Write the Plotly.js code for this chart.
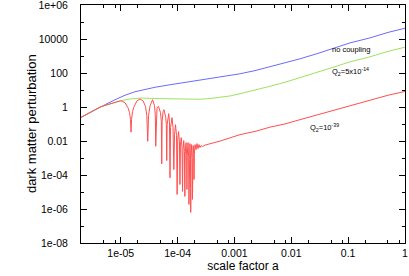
<!DOCTYPE html>
<html>
<head>
<meta charset="utf-8">
<script src="https://cdn.plot.ly/plotly-3.0.1.min.js"></script>
<style>html,body{margin:0;padding:0;background:#fff;}#chart{width:409px;height:276px;}</style>
</head>
<body>
<div id="chart"></div>
<script>
// scale factor a and perturbation values
const aBlue = [2.00e-6, 3.53e-6, 5.30e-6, 7.94e-6, 1.19e-5, 1.78e-5, 2.68e-5, 4.01e-5, 7.36e-5, 1.10e-4, 2.48e-4, 5.58e-4, 1.25e-3, 2.30e-3, 4.23e-3, 7.75e-3, 1.42e-2, 2.95e-2, 5.42e-2, 0.1078, 0.242, 0.5026, 1];
const blueVals = [0.2455, 0.694, 1.364, 2.68, 4.92, 7.89, 11.07, 14.5, 20.3, 24.9, 36.3, 56, 89.8, 138, 231, 381, 681, 1430, 2810, 5900, 11600, 24400, 43000];

const aGreen = [2.00e-6, 3.53e-6, 4.33e-6, 5.30e-6, 6.48e-6, 7.94e-6, 9.72e-6, 1.46e-5, 2.34e-5, 4.01e-5, 7.36e-5, 1.35e-4, 2.48e-4, 3.72e-4, 5.58e-4, 8.36e-4, 1.25e-3, 2.30e-3, 4.23e-3, 7.75e-3, 1.42e-2, 2.95e-2, 5.42e-2, 0.1078, 0.242, 0.5026, 1];
const greenVals = [0.2455, 0.694, 1.00, 1.241, 1.561, 1.965, 2.279, 2.987, 3.373, 3.151, 2.946, 2.867, 2.85, 3.15, 3.6, 4.45, 6.03, 9.67, 16.6, 28.5, 52.3, 110, 216, 454, 891, 1875, 3300];

const aRed = [
  2.00e-6, 3.53e-6, 4.33e-6, 5.30e-6, 6.48e-6, 7.94e-6, 9.72e-6, 1.05e-5,
  1.19e-5, 1.34e-5, 1.428e-5, 1.487e-5, 1.517e-5, 1.549e-5, 1.613e-5, 1.71e-5, 1.94e-5, 2.19e-5, 2.47e-5,
  2.73e-5, 2.877e-5, 2.985e-5, 3.083e-5, 3.28e-5, 3.63e-5, 3.93e-5, 4.06e-5, 4.126e-5, 4.211e-5, 4.349e-5,
  4.62e-5, 5.01e-5, 5.176e-5, 5.262e-5, 5.347e-5, 5.546e-5, 5.78e-5, 6.19e-5, 6.339e-5, 6.442e-5, 6.546e-5,
  6.79e-5, 6.985e-5, 7.19e-5, 7.362e-5, 7.512e-5, 7.759e-5, 7.98e-5, 8.31e-5, 8.59e-5, 8.835e-5, 9.2e-5,
  9.58e-5, 9.815e-5, 1.006e-4, 1.039e-4, 1.078e-4, 1.100e-4, 1.122e-4, 1.159e-4, 1.197e-4, 1.222e-4, 1.247e-4,
  1.282e-4, 1.319e-4, 1.341e-4, 1.363e-4, 1.408e-4, 1.442e-4, 1.460e-4, 1.477e-4, 1.526e-4, 1.564e-4, 1.583e-4,
  1.602e-4, 1.648e-4, 1.689e-4, 1.702e-4, 1.723e-4, 1.766e-4, 1.809e-4, 1.824e-4, 1.846e-4, 1.884e-4, 1.930e-4,
  1.946e-4, 1.970e-4, 2.026e-4, 2.110e-4, 2.198e-4, 2.288e-4, 2.382e-4, 2.481e-4, 2.584e-4, 2.746e-4, 3.039e-4,
  5.578e-4, 1.253e-3, 2.30e-3, 4.225e-3, 7.75e-3, 1.423e-2, 2.95e-2, 7.19e-2, 0.2424, 0.5026, 1
];
const redVals = [
  0.2455, 0.694, 1.00, 1.241, 1.561, 1.965, 2.279, 2.248,
  1.787, 0.910, 0.463, 0.18, 0.0333, 0.18, 0.530, 1.041, 2.342, 2.946, 2.342,
  1.041, 0.3088, 0.0096, 0.3088, 1.192, 2.68, 1.192, 0.3088, 0.00489, 0.3088, 0.910,
  1.084, 0.463, 0.1373, 4.54e-4, 0.1373, 0.530, 0.694, 0.2357, 0.0916, 7.09e-4, 0.0916,
  0.3088, 0.4046, 0.1373, 6.85e-5, 0.0611, 0.206, 0.2357, 0.0611, 2.10e-4, 0.0237, 0.0916,
  0.0207, 7.18e-6, 0.01208, 0.0356, 0.00922, 2.77e-5, 0.00537, 0.0158, 0.0041, 1.08e-5, 0.00313,
  0.01056, 0.00239, 5.48e-6, 0.00182, 0.00806, 0.00139, 1.41e-5, 0.00139, 0.00806, 0.00106, 1.86e-6,
  0.00106, 0.00704, 8.11e-4, 6.32e-7, 8.11e-4, 0.00615, 0.00106, 3.66e-6, 0.00106, 0.00537, 0.00159,
  5.44e-5, 0.00159, 0.00615, 0.00313, 0.00704, 0.00358, 0.00615, 0.0041, 0.00537, 0.00469, 0.00575,
  0.00986, 0.0237, 0.0366, 0.0653, 0.1007, 0.18, 0.3535, 0.851, 2.68, 4.92, 8.22
];

const xTickVals = [1e-5, 1e-4, 1e-3, 1e-2, 1e-1, 1];
const xTickText = ['1e-05', '1e-04', '0.001', '0.01', '0.1', '1'];
const xMinorVals = [2e-6, 5e-6, 8e-6, 2e-5, 5e-5, 8e-5, 2e-4, 5e-4, 8e-4, 2e-3, 5e-3, 8e-3, 2e-2, 5e-2, 8e-2, 0.2, 0.5, 0.8];
const yTickVals = [1e-8, 1e-6, 1e-4, 1e-2, 1, 100, 1e4, 1e6];
const yTickText = ['1e-08', '1e-06', '1e-04', '0.01', '1', '100', '10000', '1e+06'];
const yMinorVals = [1e-7, 1e-5, 1e-3, 0.1, 10, 1000, 1e5];

const xTitle = 'scale factor a';
const yTitle = 'dark matter perturbation';
const labelNo = 'no coupling';
const labelGreen = 'Q<sub>2</sub>=5x10<sup>-14</sup>';
const labelRed = 'Q<sub>2</sub>=10<sup>-39</sup>';

const FONT = 'Liberation Sans, Arial, Helvetica, sans-serif';

const traces = [
  {x: aBlue, y: blueVals, mode: 'lines', line: {color: '#6a6aff', width: 1}, name: labelNo},
  {x: aGreen, y: greenVals, mode: 'lines', line: {color: '#9ee35e', width: 1}, name: 'Q2=5x10-14'},
  {x: aRed, y: redVals, mode: 'lines', line: {color: '#ff4f4f', width: 1}, name: 'Q2=10-39'}
];

const axisCommon = {
  type: 'log', showgrid: false, zeroline: false,
  showline: true, linecolor: '#000', linewidth: 1, mirror: 'ticks',
  ticks: 'inside', ticklen: 6, tickcolor: '#000', tickwidth: 1,
  tickmode: 'array', ticklabeloverflow: 'allow',
  tickfont: {family: FONT, size: 10.5, color: '#000'}
};

const layout = {
  width: 409, height: 276,
  margin: {l: 81, r: 4, t: 5, b: 33},
  paper_bgcolor: '#fff', plot_bgcolor: '#fff',
  showlegend: false,
  font: {family: FONT, color: '#000'},
  xaxis: Object.assign({}, axisCommon, {
    range: [-5.699, 0],
    tickvals: xTickVals, ticktext: xTickText,
    minor: {tickmode: 'array', tickvals: xMinorVals, ticks: 'inside', ticklen: 3, tickcolor: '#000', showgrid: false},
    title: {text: xTitle, font: {family: FONT, size: 12, color: '#000'}, standoff: 4}
  }),
  yaxis: Object.assign({}, axisCommon, {
    range: [-8, 6],
    tickvals: yTickVals, ticktext: yTickText,
    ticklabelstandoff: 10,
    minor: {tickmode: 'array', tickvals: yMinorVals, ticks: 'inside', ticklen: 3, tickcolor: '#000', showgrid: false}
  }),
  annotations: [
    {xref: 'paper', yref: 'paper', x: -0.154, y: 0.5, xanchor: 'center', yanchor: 'middle', textangle: -90, text: yTitle, showarrow: false, font: {family: FONT, size: 13, color: '#000'}},
    {xref: 'paper', yref: 'paper', x: 0.833, y: 0.815, xanchor: 'center', yanchor: 'middle', text: labelNo, showarrow: false, font: {family: FONT, size: 7.5, color: '#000'}},
    {xref: 'paper', yref: 'paper', x: 0.833, y: 0.721, xanchor: 'center', yanchor: 'middle', text: labelGreen, showarrow: false, font: {family: FONT, size: 7.5, color: '#000'}},
    {xref: 'paper', yref: 'paper', x: 0.753, y: 0.487, xanchor: 'center', yanchor: 'middle', text: labelRed, showarrow: false, font: {family: FONT, size: 7.5, color: '#000'}}
  ]
};

Plotly.newPlot('chart', traces, layout, {staticPlot: true, displayModeBar: false});
</script>
</body>
</html>
